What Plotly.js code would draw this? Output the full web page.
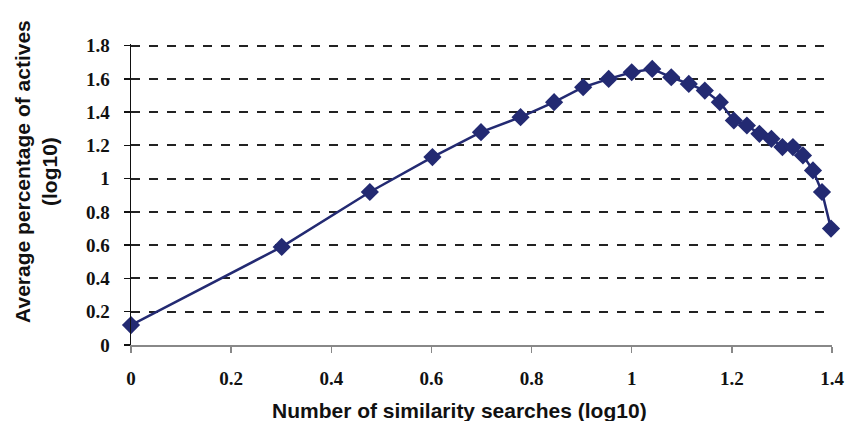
<!DOCTYPE html>
<html>
<head>
<meta charset="utf-8">
<script src="https://cdn.plot.ly/plotly-3.0.1.min.js"></script>
<style>html,body{margin:0;padding:0;background:#fff;}#chart{width:846px;height:421px;}</style>
</head>
<body>
<div id="chart"></div>
<script>
// Number of similarity searches (log10)
const searchesLog = [0, 0.301, 0.477, 0.602, 0.699, 0.778, 0.845, 0.903, 0.954, 1.0, 1.041, 1.079, 1.114, 1.146, 1.176, 1.204, 1.230, 1.255, 1.279, 1.301, 1.322, 1.342, 1.362, 1.380, 1.398];
// Average percentage of actives (log10)
const activesLog = [0.12, 0.59, 0.92, 1.13, 1.28, 1.37, 1.46, 1.55, 1.60, 1.64, 1.66, 1.61, 1.57, 1.53, 1.46, 1.35, 1.32, 1.27, 1.24, 1.19, 1.19, 1.14, 1.05, 0.92, 0.70];
const xTicks = [0, 0.2, 0.4, 0.6, 0.8, 1, 1.2, 1.4];
const yTicks = [0, 0.2, 0.4, 0.6, 0.8, 1, 1.2, 1.4, 1.6, 1.8];
const xTitle = 'Number of similarity searches (log10)';
const yTitle = 'Average percentage of actives<br>(log10)';

const navy = '#232a72';
const tickFont = {family: 'Liberation Serif, Times New Roman, serif', size: 19, color: '#111', weight: 'bold'};
const titleFont = {family: 'Liberation Sans, Arial, sans-serif', size: 21, color: '#111', weight: 'bold'};

Plotly.newPlot('chart', [{
  x: searchesLog, y: activesLog, type: 'scatter', mode: 'lines+markers',
  line: {color: navy, width: 2.5},
  marker: {symbol: 'diamond', size: 14, color: navy},
  cliponaxis: false, hoverinfo: 'skip'
}], {
  width: 846, height: 421,
  margin: {l: 131, r: 14, t: 44, b: 76},
  paper_bgcolor: '#fff', plot_bgcolor: '#fff',
  showlegend: false,
  xaxis: {
    range: [0, 1.4], tickvals: xTicks, ticktext: xTicks.map(String),
    showgrid: false, zeroline: false,
    showline: true, linecolor: '#888', linewidth: 2,
    ticks: 'outside', ticklen: 6, tickcolor: '#888', tickwidth: 1.5,
    ticklabelstandoff: 9,
    tickfont: tickFont
  },
  yaxis: {
    range: [0, 1.81], tickvals: yTicks, ticktext: yTicks.map(String),
    showgrid: true, gridcolor: '#222', gridwidth: 2, griddash: 'dash',
    zeroline: false,
    showline: true, linecolor: '#111', linewidth: 1.5,
    ticks: 'outside', ticklen: 6, tickcolor: '#111', tickwidth: 1.5,
    ticklabelstandoff: 10,
    tickfont: tickFont
  },
  annotations: [
    {text: xTitle, xref: 'paper', yref: 'paper', x: 0.469, y: -0.217,
     xanchor: 'center', yanchor: 'middle', showarrow: false, font: titleFont},
    {text: yTitle, xref: 'paper', yref: 'paper', x: -0.1355, y: 0.575,
     xanchor: 'center', yanchor: 'middle', showarrow: false, textangle: -90, font: titleFont}
  ]
}, {displayModeBar: false, staticPlot: true});
</script>
</body>
</html>
